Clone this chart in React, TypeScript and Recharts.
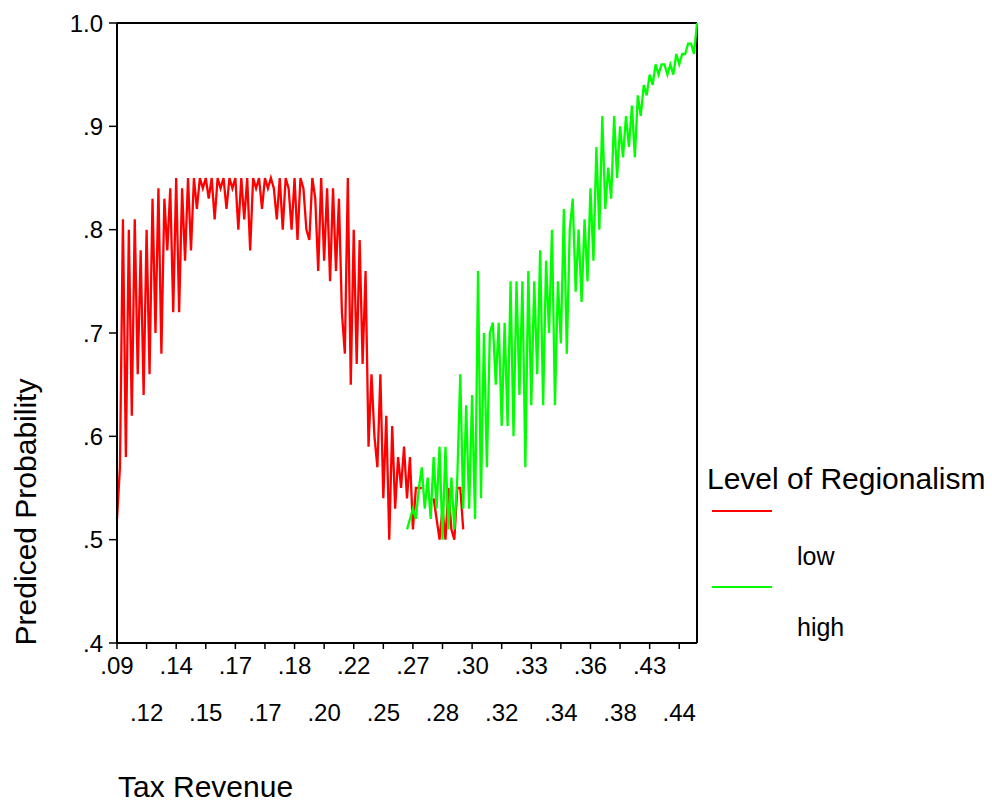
import { LineChart, Line, XAxis, YAxis, ReferenceLine } from "recharts";

const FONT = '"Liberation Sans", Arial, sans-serif';

// tax revenue labels, one every 10 categories
const tickLabels = [
  ".09", ".12", ".14", ".15", ".17", ".17", ".18", ".20", ".22", ".25",
  ".27", ".28", ".30", ".32", ".33", ".34", ".36", ".38", ".43", ".44",
];
const xTicks = tickLabels.map((_, k) => k * 10);
const yTicks = [0.4, 0.5, 0.6, 0.7, 0.8, 0.9, 1.0];
const lastIndex = 196;

// low regionalism, categories 0..117
const lowValues: (number | null)[] = [
  0.52, 0.57, 0.81, 0.58, 0.80, 0.62, 0.81, 0.66, 0.78, 0.64,
  0.80, 0.66, 0.83, 0.70, 0.84, 0.68, 0.83, 0.78, 0.84, 0.72,
  0.85, 0.72, 0.84, 0.77, 0.85, 0.78, 0.85, 0.82, 0.85, 0.84,
  0.85, 0.83, 0.85, 0.81, 0.85, 0.84, 0.85, 0.82, 0.85, 0.84,
  0.85, 0.80, 0.85, 0.81, 0.85, 0.78, 0.85, 0.84, 0.85, 0.82,
  0.85, 0.84, 0.85, 0.84, 0.81, 0.85, 0.80, 0.85, 0.84, 0.80,
  0.85, 0.79, 0.85, 0.84, 0.80, 0.79, 0.85, 0.83, 0.76, 0.85,
  0.77, 0.84, 0.75, 0.84, 0.76, 0.83, 0.72, 0.68, 0.85, 0.65,
  0.80, 0.67, 0.79, 0.67, 0.76, 0.59, 0.66, 0.60, 0.57, 0.66,
  0.54, 0.62, 0.50, 0.61, 0.53, 0.58, 0.55, 0.59, 0.54, 0.58,
  0.51, 0.55, 0.55, 0.55, null, null, null, 0.54, 0.52, 0.50,
  0.53, 0.50, 0.55, 0.51, 0.50, 0.55, 0.55, 0.51,
];

// high regionalism, categories 98..196
const highStart = 98;
const highValues: number[] = [
  0.51, 0.52, 0.53, 0.52, 0.55, 0.57, 0.53, 0.56, 0.52, 0.58,
  0.53, 0.59, 0.50, 0.59, 0.51, 0.56, 0.51, 0.56, 0.66, 0.53,
  0.63, 0.53, 0.64, 0.52, 0.76, 0.54, 0.70, 0.57, 0.70, 0.71,
  0.65, 0.71, 0.61, 0.71, 0.61, 0.75, 0.60, 0.75, 0.64, 0.75,
  0.57, 0.76, 0.63, 0.75, 0.66, 0.78, 0.63, 0.77, 0.70, 0.80,
  0.63, 0.75, 0.69, 0.82, 0.68, 0.80, 0.83, 0.74, 0.80, 0.73,
  0.81, 0.75, 0.84, 0.77, 0.88, 0.80, 0.91, 0.82, 0.86, 0.83,
  0.91, 0.85, 0.90, 0.87, 0.91, 0.88, 0.92, 0.87, 0.93, 0.91,
  0.94, 0.93, 0.95, 0.94, 0.96, 0.95, 0.96, 0.96, 0.95, 0.96,
  0.95, 0.97, 0.96, 0.97, 0.97, 0.98, 0.98, 0.97, 1.0,
];

const rows = Array.from({ length: lastIndex + 1 }, (_, i) => ({
  i,
  low: i < lowValues.length ? lowValues[i] : null,
  high: i >= highStart ? highValues[i - highStart] ?? null : null,
}));

const XTick = (props: any) => {
  const { x, y, payload } = props;
  const k = Math.round(payload.value / 10);
  const row = k % 2;
  return (
    <text x={x} y={y + 23 + row * 47} textAnchor="middle" fontSize={24} fontFamily={FONT} fill="#000">
      {tickLabels[k]}
    </text>
  );
};

const fmtY = (v: number) => (v >= 1 ? "1.0" : v.toFixed(1).replace(/^0/, ""));

const XTitle = () => (
  <text x={118} y={797} fontSize={30} fontFamily={FONT} fill="#000">
    Tax Revenue
  </text>
);

const YTitle = () => (
  <text transform="translate(36,512) rotate(-90)" textAnchor="middle" fontSize={30} fontFamily={FONT} fill="#000">
    Prediced Probability
  </text>
);

export default function App() {
  return (
    <div style={{ position: "absolute", left: 0, top: 0, width: 992, height: 802, background: "#fff" }}>
      <LineChart width={992} height={802} data={rows} margin={{ top: 23, right: 295, bottom: 99, left: 57 }}>
        <XAxis
          dataKey="i"
          type="number"
          domain={[0, lastIndex]}
          ticks={xTicks}
          interval={0}
          tick={<XTick />}
          tickSize={6}
          tickMargin={2}
          height={60}
          axisLine={{ stroke: "#000", strokeWidth: 2 }}
          tickLine={{ stroke: "#000", strokeWidth: 1.5 }}
          label={<XTitle />}
        />
        <YAxis
          type="number"
          domain={[0.4, 1.0]}
          ticks={yTicks}
          interval={0}
          tickFormatter={fmtY}
          width={60}
          tickSize={8}
          tickMargin={6}
          tick={{ fontSize: 24, fontFamily: FONT, fill: "#000" }}
          axisLine={{ stroke: "#000", strokeWidth: 2 }}
          tickLine={{ stroke: "#000", strokeWidth: 1.5 }}
          label={<YTitle />}
        />
        <ReferenceLine y={1.0} stroke="#000" strokeWidth={2} />
        <ReferenceLine x={lastIndex} stroke="#000" strokeWidth={2} />
        <Line dataKey="low" stroke="#ff0000" strokeWidth={2.3} dot={false} isAnimationActive={false} connectNulls={false} />
        <Line dataKey="high" stroke="#00ff00" strokeWidth={2.3} dot={false} isAnimationActive={false} connectNulls={false} />
      </LineChart>
      <svg width={992} height={802} style={{ position: "absolute", left: 0, top: 0, pointerEvents: "none" }}>
        <text x={707} y={489} fontSize={30} fontFamily={FONT} fill="#000">Level of Regionalism</text>
        <line x1={712} x2={772} y1={511} y2={511} stroke="#ff0000" strokeWidth={2} />
        <text x={797} y={565} fontSize={25} fontFamily={FONT} fill="#000">low</text>
        <line x1={712} x2={772} y1={587} y2={587} stroke="#00ff00" strokeWidth={2} />
        <text x={797} y={636} fontSize={25} fontFamily={FONT} fill="#000">high</text>
      </svg>
    </div>
  );
}
